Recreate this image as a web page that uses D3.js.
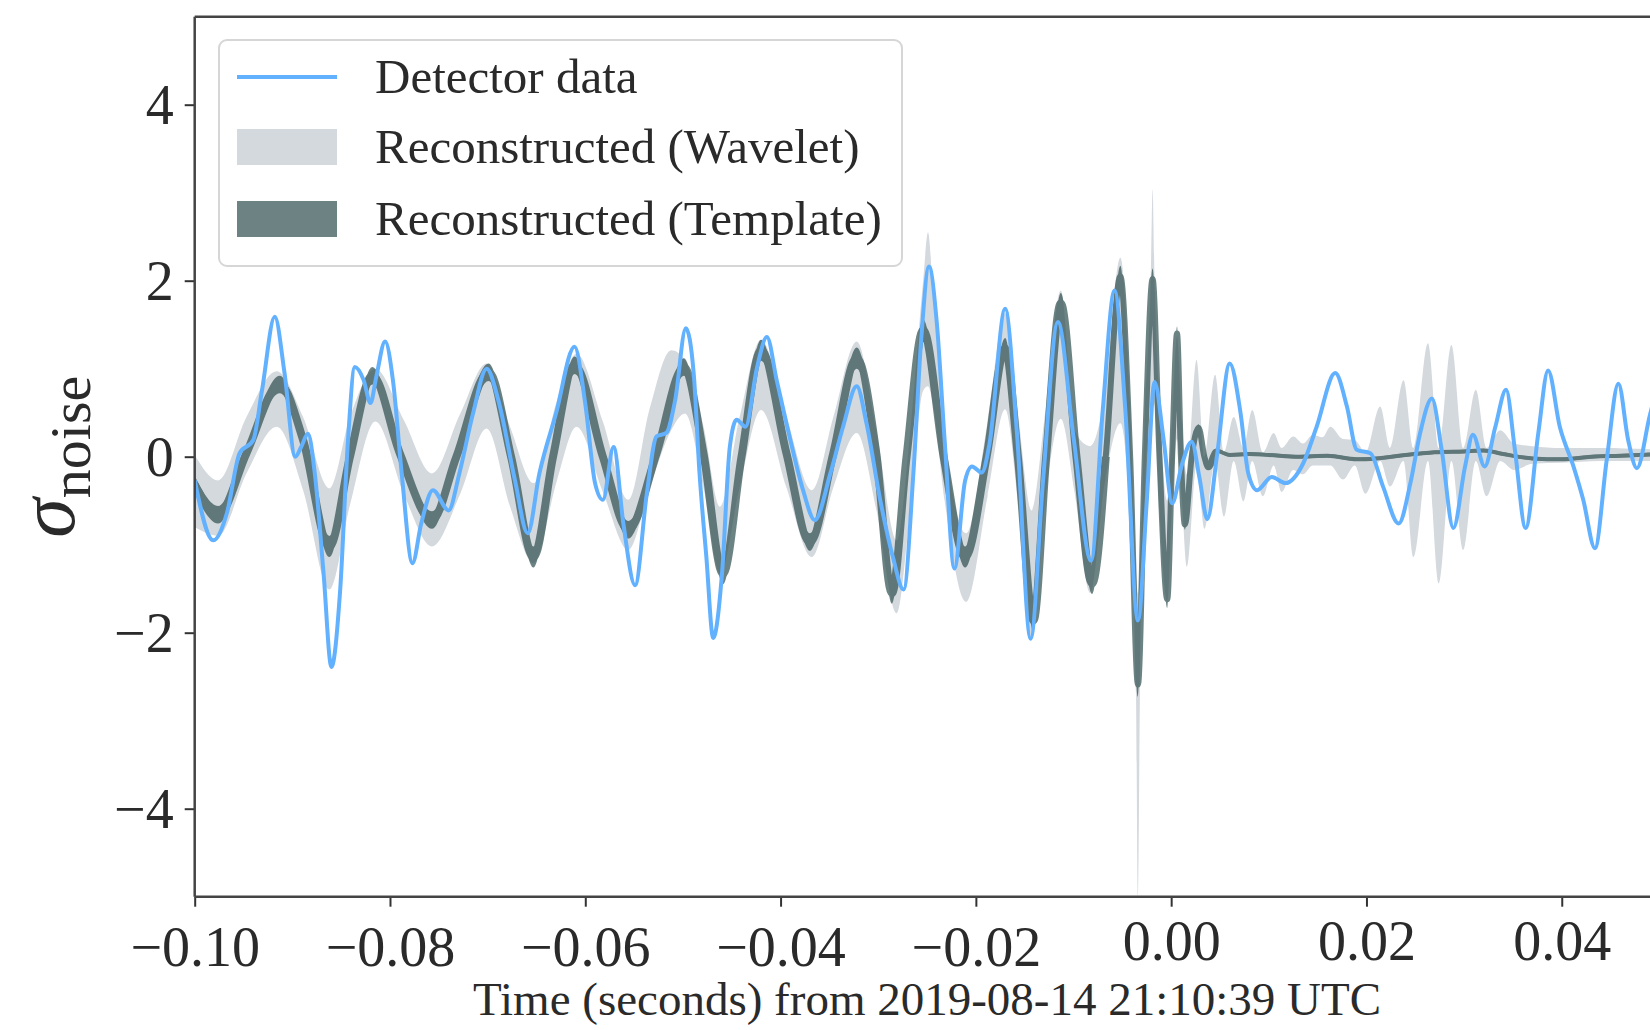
<!DOCTYPE html>
<html>
<head>
<meta charset="utf-8">
<script src="https://cdn.jsdelivr.net/npm/d3@7"></script>
<style>
  body { margin: 0; background: #fff; }
  svg text { font-family: "Liberation Serif", "DejaVu Serif", serif; fill: #2a2a2a; }
</style>
</head>
<body>
<div id="chart"></div>
<script>
// ---- data (time in s, values in sigma_noise) ----

// detector data (blue line)
let detTime = [
  -0.1000, -0.0981, -0.0967, -0.0954, -0.0940, -0.0931, -0.0918, -0.0908, -0.0897, -0.0891,
  -0.0884, -0.0877, -0.0868, -0.0860, -0.0851, -0.0843, -0.0836, -0.0827, -0.0820, -0.0814,
  -0.0805, -0.0797, -0.0788, -0.0777, -0.0768, -0.0756, -0.0740, -0.0729, -0.0715, -0.0701,
  -0.0689, -0.0672, -0.0659, -0.0647, -0.0630, -0.0611, -0.0600, -0.0590, -0.0582, -0.0571,
  -0.0561, -0.0549, -0.0537, -0.0527, -0.0517, -0.0508, -0.0497, -0.0489, -0.0483, -0.0476,
  -0.0469, -0.0460, -0.0452, -0.0445, -0.0436, -0.0424, -0.0414, -0.0404, -0.0390, -0.0377,
  -0.0365, -0.0349, -0.0336, -0.0322, -0.0312, -0.0298, -0.0285, -0.0274, -0.0264, -0.0256,
  -0.0248, -0.0240, -0.0232, -0.0222, -0.0211, -0.0204, -0.0194, -0.0186, -0.0170, -0.0158,
  -0.0144, -0.0131, -0.0116, -0.0100, -0.0082, -0.0070, -0.0058, -0.0047, -0.0034, -0.0025,
  -0.0017, -0.0008, 0.0001, 0.0011, 0.0021, 0.0029, 0.0037, 0.0047, 0.0060, 0.0071,
  0.0079, 0.0088, 0.0103, 0.0117, 0.0135, 0.0149, 0.0168, 0.0180, 0.0190, 0.0204,
  0.0217, 0.0233, 0.0245, 0.0255, 0.0267, 0.0277, 0.0289, 0.0301, 0.0309, 0.0321,
  0.0332, 0.0343, 0.0352, 0.0363, 0.0376, 0.0386, 0.0398, 0.0412, 0.0422, 0.0434,
  0.0446, 0.0458, 0.0468, 0.0477, 0.0490, 0.0500
];
let detValue = [
  -0.27, -0.95, -0.64, 0.04, 0.19, 0.76, 1.59, 0.95, 0.00, 0.11,
  0.26, -0.19, -1.33, -2.39, -1.51, 0.19, 1.02, 0.87, 0.61, 0.91,
  1.31, 0.87, -0.19, -1.21, -0.76, -0.38, -0.61, -0.19, 0.49, 1.00,
  0.64, -0.27, -0.87, -0.19, 0.49, 1.25, 0.60, -0.30, -0.49, 0.11,
  -0.76, -1.46, -0.42, 0.23, 0.27, 0.64, 1.46, 0.95, -0.19, -1.14,
  -2.06, -1.33, 0.11, 0.42, 0.34, 1.02, 1.36, 0.87, 0.19, -0.38,
  -0.72, -0.19, 0.34, 0.80, 0.38, -0.49, -1.14, -1.51, -0.19, 1.33,
  2.16, 1.52, 0.19, -1.27, -0.27, -0.11, -0.18, 0.15, 1.68, 0.28,
  -2.07, -0.24, 1.53, 0.22, -1.18, 0.54, 1.89, 0.54, -1.86, -0.51,
  0.85, 0.22, -0.53, -0.09, 0.17, -0.24, -0.71, 0.02, 1.06, 0.50,
  -0.19, -0.38, -0.23, -0.30, -0.08, 0.34, 0.95, 0.57, 0.08, 0.04,
  -0.34, -0.76, -0.30, 0.27, 0.66, 0.08, -0.81, -0.11, 0.25, -0.11,
  0.34, 0.76, 0.08, -0.81, 0.27, 0.98, 0.34, -0.11, -0.49, -1.04,
  -0.04, 0.83, 0.19, -0.13, 0.46, 0.90
];

// reconstructed (template): median and half width of the band
let tmplTime = [
  -0.1000, -0.0976, -0.0947, -0.0913, -0.0889, -0.0862, -0.0841, -0.0818, -0.0790, -0.0757,
  -0.0732, -0.0699, -0.0676, -0.0653, -0.0633, -0.0611, -0.0582, -0.0556, -0.0527, -0.0499,
  -0.0479, -0.0459, -0.0440, -0.0420, -0.0394, -0.0370, -0.0346, -0.0322, -0.0302, -0.0286,
  -0.0271, -0.0254, -0.0233, -0.0211, -0.0189, -0.0170, -0.0157, -0.0141, -0.0128, -0.0113,
  -0.0097, -0.0081, -0.0067, -0.0052, -0.0042, -0.0034, -0.0027, -0.0019, -0.0012, -0.0004,
  0.0001, 0.0006, 0.0010, 0.0014, 0.0021, 0.0028, 0.0034, 0.0038, 0.0046, 0.0060,
  0.0080, 0.0100, 0.0130, 0.0160, 0.0190, 0.0210, 0.0240, 0.0270, 0.0300, 0.0320,
  0.0340, 0.0370, 0.0400, 0.0430, 0.0460, 0.0500
];
let tmplValue = [
  -0.32, -0.66, 0.04, 0.82, 0.19, -1.02, 0.00, 0.92, 0.04, -0.72,
  0.00, 0.96, 0.00, -1.14, 0.00, 1.04, 0.00, -0.83, 0.04, 1.02,
  0.04, -1.33, 0.00, 1.21, 0.04, -0.97, 0.04, 1.12, 0.04, -1.55,
  0.00, 1.44, 0.00, -1.14, 0.00, 1.23, 0.00, -1.86, 0.00, 1.74,
  0.00, -1.44, 0.00, 2.05, 0.00, -2.59, 0.00, 2.02, 0.00, -1.62,
  0.00, 1.40, 0.00, -0.77, 0.00, 0.33, 0.00, -0.12, 0.07, 0.02,
  0.03, 0.02, 0.00, 0.01, -0.03, -0.02, 0.02, 0.05, 0.06, 0.07,
  0.03, -0.02, -0.03, 0.00, 0.01, 0.03
];
let tmplHalf = [
  0.10, 0.10, 0.08, 0.10, 0.08, 0.12, 0.08, 0.10, 0.08, 0.10,
  0.08, 0.10, 0.08, 0.12, 0.08, 0.10, 0.08, 0.10, 0.08, 0.10,
  0.08, 0.12, 0.08, 0.12, 0.08, 0.10, 0.08, 0.12, 0.08, 0.12,
  0.08, 0.12, 0.08, 0.12, 0.08, 0.12, 0.08, 0.12, 0.08, 0.12,
  0.08, 0.12, 0.06, 0.12, 0.06, 0.14, 0.06, 0.12, 0.06, 0.10,
  0.05, 0.08, 0.05, 0.06, 0.04, 0.04, 0.03, 0.03, 0.02, 0.02,
  0.02, 0.02, 0.02, 0.02, 0.02, 0.02, 0.02, 0.02, 0.02, 0.02,
  0.02, 0.02, 0.02, 0.02, 0.02, 0.02
];

// reconstructed (wavelet): lower and upper edge of the band
let waveTime = [
  -0.1000, -0.0976, -0.0947, -0.0916, -0.0889, -0.0862, -0.0841, -0.0815, -0.0786, -0.0757,
  -0.0728, -0.0701, -0.0677, -0.0653, -0.0629, -0.0609, -0.0582, -0.0556, -0.0534, -0.0512,
  -0.0498, -0.0479, -0.0462, -0.0442, -0.0420, -0.0394, -0.0368, -0.0346, -0.0322, -0.0302,
  -0.0281, -0.0268, -0.0254, -0.0249, -0.0244, -0.0232, -0.0210, -0.0188, -0.0170, -0.0157,
  -0.0143, -0.0128, -0.0113, -0.0099, -0.0083, -0.0068, -0.0052, -0.0042, -0.0036, -0.0034,
  -0.0032, -0.0027, -0.0021, -0.0019, -0.0017, -0.0012, -0.0004, 0.0001, 0.0006, 0.0011,
  0.0016, 0.0026, 0.0034, 0.0045, 0.0054, 0.0064, 0.0074, 0.0083, 0.0094, 0.0105,
  0.0113, 0.0125, 0.0135, 0.0145, 0.0155, 0.0163, 0.0176, 0.0188, 0.0199, 0.0214,
  0.0224, 0.0238, 0.0248, 0.0263, 0.0274, 0.0287, 0.0299, 0.0312, 0.0323, 0.0337,
  0.0351, 0.0370, 0.0400, 0.0440, 0.0500
];
let waveLow = [
  -0.80, -0.90, -0.19, 0.34, -0.38, -1.51, -0.55, 0.40, -0.42, -1.02,
  -0.42, 0.32, -0.57, -1.21, -0.27, 0.34, -0.40, -1.06, -0.35, 0.30,
  0.49, -0.35, -1.33, -0.35, 0.53, -0.35, -1.14, -0.35, 0.27, -0.60,
  -1.78, -0.70, 0.75, 0.80, 0.60, -0.50, -1.65, -0.45, 0.54, -0.50,
  -2.07, -0.40, 0.43, -0.40, -1.55, -0.30, 0.38, -0.80, -2.70, -4.99,
  -2.70, -0.50, 0.60, 0.64, 0.60, -0.60, -1.65, -0.50, 0.20, -0.50,
  -1.25, -0.10, -0.82, -0.05, -0.68, -0.05, -0.51, -0.05, -0.45, -0.10,
  -0.40, -0.15, -0.20, -0.10, -0.10, -0.10, -0.26, -0.10, -0.42, -0.05,
  -0.34, -0.05, -1.14, -0.05, -1.44, -0.05, -1.06, -0.05, -0.45, -0.05,
  -0.15, -0.08, -0.07, -0.05, -0.05
];
let waveHigh = [
  0.02, -0.27, 0.45, 0.97, 0.45, -0.36, 0.45, 1.00, 0.42, -0.19,
  0.49, 1.06, 0.34, -0.30, 0.64, 1.17, 0.40, -0.49, 0.55, 1.21,
  1.10, 0.35, -0.57, 0.45, 1.33, 0.45, -0.38, 0.45, 1.31, 0.30,
  -0.95, 0.20, 2.00, 2.55, 1.90, 0.30, -0.87, 0.40, 1.63, 0.50,
  -0.61, 0.60, 1.89, 0.30, 0.12, 0.70, 2.26, 0.60, -1.30, -1.55,
  -1.30, 0.50, 2.00, 3.04, 2.00, 0.60, -0.50, 0.40, 1.37, 0.40,
  -0.20, 1.10, 0.00, 0.93, 0.05, 0.45, 0.10, 0.53, 0.05, 0.27,
  0.10, 0.23, 0.15, 0.25, 0.22, 0.34, 0.20, 0.19, 0.05, 0.57,
  0.10, 0.87, 0.10, 1.29, 0.10, 1.27, 0.10, 0.76, 0.10, 0.30,
  0.15, 0.12, 0.10, 0.10, 0.08
];

let xTicks = [-0.10, -0.08, -0.06, -0.04, -0.02, 0.00, 0.02, 0.04];
let yTicks = [-4, -2, 0, 2, 4];
let legendLabels = ['Detector data', 'Reconstructed (Wavelet)', 'Reconstructed (Template)'];

// ---- layout ----
let svgWidth = 1650, svgHeight = 1030;
let plotLeft = 194.7, plotRight = 1659.4, plotTop = 16.7, plotBottom = 896.7;

let colors = {
  detector: '#62b1ff',
  wavelet: '#d4d9de',
  template: '#2f4f4f'
};

let svg = d3.select('#chart')
  .append('svg')
  .attr('width', svgWidth)
  .attr('height', svgHeight);

let x = d3.scaleLinear().domain([-0.1, 0.05]).range([plotLeft, plotRight]);
let y = d3.scaleLinear().domain([-5, 5]).range([plotBottom, plotTop]);

svg.append('clipPath').attr('id', 'plot-clip')
  .append('rect')
  .attr('x', plotLeft).attr('y', plotTop)
  .attr('width', plotRight - plotLeft).attr('height', plotBottom - plotTop);

let plot = svg.append('g').attr('clip-path', 'url(#plot-clip)');

// zip the arrays into rows
let det = detTime.map((t, i) => ({t: t, v: detValue[i]}));
let tmpl = tmplTime.map((t, i) => ({t: t, v: tmplValue[i], h: tmplHalf[i]}));
let wave = waveTime.map((t, i) => ({t: t, lo: waveLow[i], hi: waveHigh[i]}));

// wavelet band
plot.append('path')
  .datum(wave)
  .attr('fill', colors.wavelet)
  .attr('d', d3.area()
    .x(d => x(d.t))
    .y0(d => y(d.lo))
    .y1(d => y(d.hi))
    .curve(d3.curveMonotoneX));

// template band + median
let tg = plot.append('g').attr('opacity', 0.7);
tg.append('path')
  .datum(tmpl)
  .attr('fill', colors.template)
  .attr('d', d3.area()
    .x(d => x(d.t))
    .y0(d => y(d.v - d.h))
    .y1(d => y(d.v + d.h))
    .curve(d3.curveMonotoneX));

let tmplLine = d3.line().x(d => x(d.t)).y(d => y(d.v)).curve(d3.curveMonotoneX);
tg.append('path')
  .datum(tmpl.filter(d => d.t <= -0.006))
  .attr('fill', 'none')
  .attr('stroke', colors.template)
  .attr('stroke-width', 8)
  .attr('stroke-linejoin', 'round')
  .attr('d', tmplLine);
tg.append('path')
  .datum(tmpl.filter(d => d.t >= -0.0081 && d.t <= 0.0046))
  .attr('fill', 'none')
  .attr('stroke', colors.template)
  .attr('stroke-width', 6)
  .attr('stroke-linejoin', 'round')
  .attr('d', tmplLine);
tg.append('path')
  .datum(tmpl.filter(d => d.t >= 0.0038))
  .attr('fill', 'none')
  .attr('stroke', colors.template)
  .attr('stroke-width', 4)
  .attr('d', tmplLine);

// detector data
plot.append('path')
  .datum(det)
  .attr('fill', 'none')
  .attr('stroke', colors.detector)
  .attr('stroke-width', 4)
  .attr('stroke-linejoin', 'round')
  .attr('d', d3.line().x(d => x(d.t)).y(d => y(d.v)).curve(d3.curveMonotoneX));

// ---- axes ----
let xAxis = svg.append('g')
  .attr('transform', `translate(0, ${plotBottom})`)
  .call(d3.axisBottom(x).tickValues(xTicks).tickSize(10).tickFormat(d3.format('.2f')));
xAxis.select('.domain').remove();
xAxis.selectAll('.tick line').attr('stroke', '#333').attr('stroke-width', 2);
xAxis.selectAll('.tick text')
  .attr('font-size', 56)
  .attr('fill', '#2a2a2a')
  .attr('dy', null)
  .attr('y', d => d < 0 ? 69 : 63);

let yAxis = svg.append('g')
  .attr('transform', `translate(${plotLeft}, 0)`)
  .call(d3.axisLeft(y).tickValues(yTicks).tickSize(10).tickPadding(11).tickFormat(d3.format('d')));
yAxis.select('.domain').remove();
yAxis.selectAll('.tick line').attr('stroke', '#333').attr('stroke-width', 2);
yAxis.selectAll('.tick text')
  .attr('font-size', 56)
  .attr('fill', '#2a2a2a')
  .attr('dy', '0.34em');

// spines
let spine = svg.append('g').attr('stroke', '#444').attr('stroke-width', 2.5);
spine.append('line').attr('x1', plotLeft).attr('x2', plotRight).attr('y1', plotTop).attr('y2', plotTop);
spine.append('line').attr('x1', plotLeft).attr('x2', plotRight).attr('y1', plotBottom).attr('y2', plotBottom);
spine.append('line').attr('x1', plotLeft).attr('x2', plotLeft).attr('y1', plotTop).attr('y2', plotBottom);

// axis titles
svg.append('text')
  .attr('x', (plotLeft + plotRight) / 2)
  .attr('y', 1015)
  .attr('text-anchor', 'middle')
  .attr('font-size', 47)
  .text('Time (seconds) from 2019-08-14 21:10:39 UTC');

let yTitle = svg.append('text')
  .attr('transform', `translate(74, ${y(0)}) rotate(-90)`)
  .attr('text-anchor', 'middle');
yTitle.append('tspan').attr('font-size', 80).attr('font-style', 'italic').text('σ');
yTitle.append('tspan').attr('font-size', 58).attr('dy', 16).text('noise');

// ---- legend ----
let legend = svg.append('g');
legend.append('rect')
  .attr('x', 219).attr('y', 40)
  .attr('width', 683).attr('height', 226)
  .attr('rx', 8)
  .attr('fill', 'white').attr('fill-opacity', 0.8)
  .attr('stroke', '#d6d6d6').attr('stroke-width', 2);

let rowY = [77, 147, 219];
legend.append('line')
  .attr('x1', 237).attr('x2', 337)
  .attr('y1', rowY[0]).attr('y2', rowY[0])
  .attr('stroke', colors.detector).attr('stroke-width', 4);
legend.append('rect')
  .attr('x', 237).attr('y', rowY[1] - 18).attr('width', 100).attr('height', 36)
  .attr('fill', colors.wavelet);
legend.append('rect')
  .attr('x', 237).attr('y', rowY[2] - 18).attr('width', 100).attr('height', 36)
  .attr('fill', colors.template).attr('fill-opacity', 0.7);

legend.selectAll('text.label')
  .data(legendLabels)
  .join('text')
  .attr('class', 'label')
  .attr('x', 375)
  .attr('y', (d, i) => rowY[i])
  .attr('dy', '0.33em')
  .attr('font-size', 49)
  .text(d => d);
</script>
</body>
</html>
